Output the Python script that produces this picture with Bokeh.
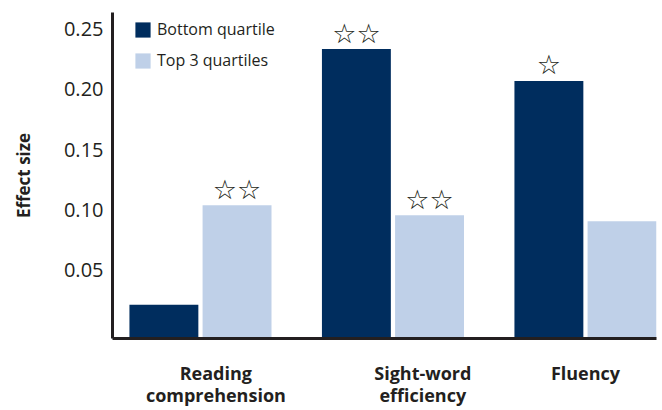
from bokeh.plotting import figure
from bokeh.models import Range1d, FixedTicker, ColumnDataSource, Legend
from bokeh.core.properties import value
from bokeh.embed import file_html
from bokeh.resources import INLINE

# ---- data ----
categories = ["Reading\ncomprehension", "Sight-word\nefficiency", "Fluency"]
bottom_quartile = [0.021, 0.2335, 0.207]
top_3_quartiles = [0.1037, 0.0955, 0.0905]
stars_bottom = ["", "☆☆", "☆"]
stars_top = ["☆☆", "☆☆", ""]
y_ticks = [0.05, 0.10, 0.15, 0.20, 0.25]
series_names = ["Bottom quartile", "Top 3 quartiles"]

# ---- style ----
DARK = "#002d5e"
LIGHT = "#bfd0e8"
INK = "#231f20"
FONT = "Open Sans"
Y_START, Y_END = -0.007, 0.2639
BAR_W = 0.358
OFF = 0.19
label_shift = [0.08, 0.155, 0.0]

groups = list(range(len(categories)))
x_bottom = [g - OFF for g in groups]
x_top = [g + OFF for g in groups]

src_b = ColumnDataSource(dict(x=x_bottom, top=bottom_quartile, stars=stars_bottom))
src_t = ColumnDataSource(dict(x=x_top, top=top_3_quartiles, stars=stars_top))

p = figure(width=662, height=410, output_backend="svg", toolbar_location=None,
           x_range=Range1d(-0.457, 2.369), y_range=Range1d(Y_START, Y_END),
           min_border_left=112, min_border_right=6, min_border_top=12,
           min_border_bottom=70)
p.outline_line_color = None
p.xgrid.visible = False
p.ygrid.visible = False
p.background_fill_color = "white"
p.border_fill_color = "white"

rb = p.vbar(x="x", top="top", bottom=Y_START, width=BAR_W, source=src_b,
            fill_color=DARK, line_color=None)
rt = p.vbar(x="x", top="top", bottom=Y_START, width=BAR_W, source=src_t,
            fill_color=LIGHT, line_color=None)

for src in (src_b, src_t):
    p.text(x="x", y="top", text="stars", source=src, text_align="center",
           text_baseline="middle", y_offset=-16, text_color=INK,
           text_font=value("DejaVu Sans"), text_font_size="27px")

# y axis
ya = p.yaxis[0]
ya.ticker = FixedTicker(ticks=y_ticks)
ya.major_label_overrides = {t: f"{t:.2f}" for t in y_ticks}
ya.major_tick_line_color = None
ya.minor_tick_line_color = None
ya.major_tick_out = 0
ya.major_tick_in = 0
ya.axis_line_width = 3
ya.axis_line_color = INK
ya.major_label_text_font = FONT
ya.major_label_text_font_size = "20px"
ya.major_label_text_color = INK
ya.major_label_standoff = 9
ya.axis_label = "Effect size"
ya.axis_label_text_font = FONT
ya.axis_label_text_font_style = "bold"
ya.axis_label_text_font_size = "17px"
ya.axis_label_text_color = INK
ya.axis_label_standoff = 26

# x axis
label_pos = [g + s for g, s in zip(groups, label_shift)]
xa = p.xaxis[0]
xa.ticker = FixedTicker(ticks=label_pos)
xa.major_label_overrides = {pos: c for pos, c in zip(label_pos, categories)}
xa.major_tick_line_color = None
xa.minor_tick_line_color = None
xa.major_tick_out = 0
xa.major_tick_in = 0
xa.axis_line_width = 3
xa.axis_line_color = INK
xa.major_label_text_font = FONT
xa.major_label_text_font_style = "bold"
xa.major_label_text_font_size = "18px"
xa.major_label_text_line_height = 0.95
xa.major_label_text_color = INK
xa.major_label_standoff = 22

legend = Legend(items=[(series_names[0], [rb]), (series_names[1], [rt])],
                location=(21, 267))
legend.padding = 0
legend.margin = 0
legend.spacing = 9
legend.glyph_width = 19
legend.glyph_height = 19
legend.label_height = 19
legend.label_standoff = 5
legend.label_text_font = FONT
legend.label_text_font_size = "16px"
legend.label_text_color = INK
legend.border_line_color = None
legend.background_fill_alpha = 0
p.add_layout(legend)

open("out.html", "w").write(file_html(p, INLINE))
